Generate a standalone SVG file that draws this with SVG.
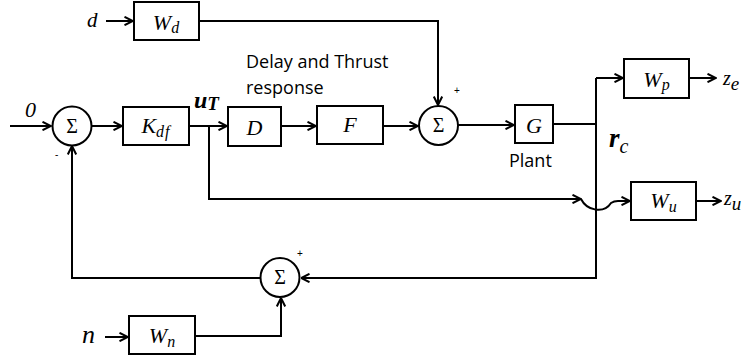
<svg xmlns="http://www.w3.org/2000/svg" width="748" height="355" viewBox="0 0 748 355">
<style>
.box{fill:#fff;stroke:#000;stroke-width:2}
.sum{fill:#fff;stroke:#000;stroke-width:2}
.ln{fill:none;stroke:#000;stroke-width:2}
.m{font-family:"Liberation Serif",serif;font-style:italic;fill:#000}
.s{font-family:"Liberation Serif",serif;font-size:20px;fill:#000}
.b{font-family:"Liberation Serif",serif;font-style:italic;font-weight:bold;fill:#000}
.t{font-family:"Open Sans",sans-serif;font-size:18px;fill:#000}
.sg{font-family:"Liberation Sans",sans-serif;font-size:10px;fill:#000}
</style>
<defs>
<marker id="ah" viewBox="0 0 10 10" refX="9.5" refY="5" markerWidth="10" markerHeight="10" markerUnits="userSpaceOnUse" orient="auto">
<path d="M1,0.8 L9.5,5 L1,9.2" fill="none" stroke="#000" stroke-width="2"/>
</marker>
</defs>
<rect width="748" height="355" fill="#fff"/>
<g id="connectors">
<path class="ln" d="M106,21 H133" marker-end="url(#ah)"/>
<path class="ln" d="M199,21 H438 V105" marker-end="url(#ah)"/>
<path class="ln" d="M10,126 H51" marker-end="url(#ah)"/>
<path class="ln" d="M91,126 H122" marker-end="url(#ah)"/>
<path class="ln" d="M189,126 H227" marker-end="url(#ah)"/>
<path class="ln" d="M281,126 H316" marker-end="url(#ah)"/>
<path class="ln" d="M383,126 H418" marker-end="url(#ah)"/>
<path class="ln" d="M458,125 H514" marker-end="url(#ah)"/>
<path class="ln" d="M553,124 H596"/>
<path class="ln" d="M596,78 H623" marker-end="url(#ah)"/>
<path class="ln" d="M596,78 V278 H301" marker-end="url(#ah)"/>
<path class="ln" d="M689,78 H716" marker-end="url(#ah)"/>
<path class="ln" d="M209,126 V199 H581" marker-end="url(#ah)"/>
<path class="ln" d="M581,199 C587,211 604,214 611,203 Q614,201 618,201 H630" marker-end="url(#ah)"/>
<path class="ln" d="M696,201 H721" marker-end="url(#ah)"/>
<path class="ln" d="M260,278 H72 V146" marker-end="url(#ah)"/>
<path class="ln" d="M105,337 H128" marker-end="url(#ah)"/>
<path class="ln" d="M195,336 H281 V298" marker-end="url(#ah)"/>
</g>
<g id="sum1">
<circle class="sum" cx="72" cy="126" r="19.5"/>
<text class="s" x="72" y="132.5" text-anchor="middle">Σ</text>
<text class="sg" x="55" y="158">-</text>
</g>
<g id="sum2">
<circle class="sum" cx="438.5" cy="125.5" r="19.5"/>
<text class="s" x="438.5" y="132" text-anchor="middle">Σ</text>
<text class="sg" x="454" y="94">+</text>
</g>
<g id="sum3">
<circle class="sum" cx="280" cy="277.5" r="19.5"/>
<text class="s" x="280" y="284" text-anchor="middle">Σ</text>
<text class="sg" x="297" y="257">+</text>
</g>
<g id="Wd">
<rect class="box" x="134" y="2" width="65" height="38"/>
<text class="m" x="166" y="30" text-anchor="middle" font-size="22">W<tspan font-size="16" dy="3">d</tspan></text>
</g>
<g id="Kdf">
<rect class="box" x="123" y="107" width="66" height="38"/>
<text class="m" x="156" y="133" text-anchor="middle" font-size="22">K<tspan font-size="16" dy="4" letter-spacing="1">df</tspan></text>
</g>
<g id="D">
<rect class="box" x="228" y="107" width="53" height="39"/>
<text class="m" x="254.5" y="135" text-anchor="middle" font-size="22">D</text>
</g>
<g id="F">
<rect class="box" x="317" y="106" width="66" height="38"/>
<text class="m" x="350" y="132" text-anchor="middle" font-size="22">F</text>
</g>
<g id="G">
<rect class="box" x="515" y="105" width="38" height="38"/>
<text class="m" x="534" y="133" text-anchor="middle" font-size="22">G</text>
</g>
<g id="Wp">
<rect class="box" x="624" y="59" width="65" height="39"/>
<text class="m" x="656.5" y="87" text-anchor="middle" font-size="22">W<tspan font-size="16" dy="3">p</tspan></text>
</g>
<g id="Wu">
<rect class="box" x="631" y="182" width="65" height="38"/>
<text class="m" x="663.5" y="208" text-anchor="middle" font-size="22">W<tspan font-size="16" dy="4">u</tspan></text>
</g>
<g id="Wn">
<rect class="box" x="129" y="316" width="66" height="38"/>
<text class="m" x="162" y="343" text-anchor="middle" font-size="22">W<tspan font-size="16" dy="4">n</tspan></text>
</g>
<g id="labels">
<text class="m" x="87" y="27" font-size="21">d</text>
<text class="m" x="25" y="117" font-size="22">0</text>
<text class="m" x="82" y="343" font-size="26">n</text>
<text class="b" x="194" y="108" font-size="24">u<tspan font-size="19" dy="2">T</tspan></text>
<text class="t" x="246" y="68">Delay and Thrust</text>
<text class="t" x="246" y="94">response</text>
<text class="t" x="509" y="167">Plant</text>
<text class="b" x="609" y="147" font-size="27">r<tspan class="m" font-weight="normal" font-size="20" dy="6">c</tspan></text>
<text class="m" x="723" y="85" font-size="20">z<tspan font-size="19" dy="5">e</tspan></text>
<text class="m" x="724" y="205" font-size="20">z<tspan font-size="19" dy="5">u</tspan></text>
</g>
</svg>
